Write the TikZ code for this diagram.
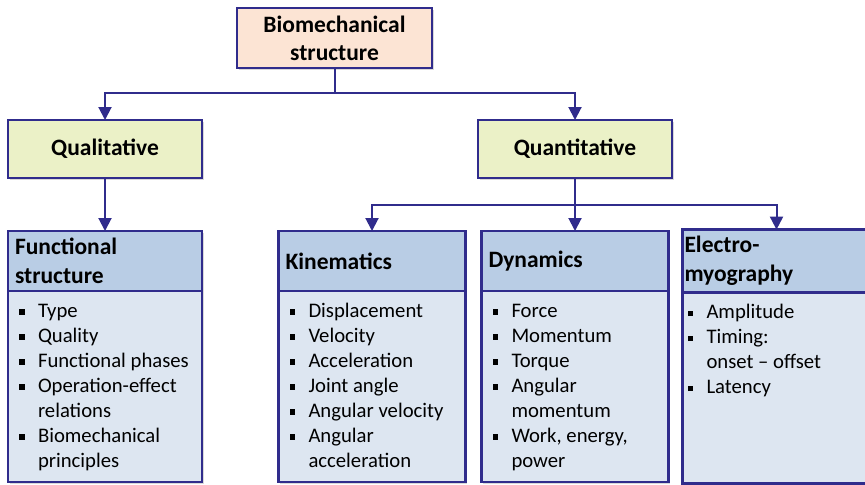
\documentclass[tikz,border=0pt]{standalone}
\usepackage{fontspec}
\setmainfont{Carlito}
\usetikzlibrary{positioning, arrows.meta, shadows}

\definecolor{frame}{RGB}{48,44,140}
\definecolor{peach}{RGB}{252,228,212}
\definecolor{lime}{RGB}{235,241,199}
\definecolor{headblue}{RGB}{185,205,229}
\definecolor{bodyblue}{RGB}{221,230,241}

\newcommand{\bitem}[1]{\spaceskip=0pt\xspaceskip=0pt\hangindent=13pt\hangafter=1\noindent\makebox[13pt][l]{\hspace{3.7pt}\rule[1.2pt]{2.6pt}{2.6pt}}#1\par}

\begin{document}
\begin{tikzpicture}[>={Triangle[length=6.5pt,width=6.5pt]},
  box/.style = {draw=frame, line width=1.2pt, outer sep=0pt,
    drop shadow={shadow xshift=.8pt, shadow yshift=-.8pt, opacity=.3}},
  rootbox/.style = {box, fill=peach, minimum width=97.5pt, minimum height=30pt,
    align=center, font=\fontsize{11.75}{14}\selectfont\bfseries},
  catbox/.style = {box, fill=lime, minimum width=97pt, minimum height=29pt,
    font=\fontsize{11.75}{14}\selectfont\bfseries},
  head/.style = {box, fill=headblue, text width=#1, inner xsep=3.5pt,
    minimum height=30pt, align=left, font=\fontsize{11.75}{14.5}\selectfont\bfseries},
  body/.style = {box, fill=bodyblue, text width=#1, inner xsep=2pt, inner ysep=4pt,
    text height=9pt, text depth=78.5pt, align=left, font=\fontsize{10.35}{12.5}\selectfont},
  link/.style = {->, draw=frame, line width=1pt}]
\useasboundingbox (0,0) rectangle (432.5pt,-242pt);
\clip (0,0) rectangle (432.5pt,-242pt);

\node[rootbox] (bio) at (167.25pt,-19pt) {Biomechanical\\structure};
\node[catbox] (qual) at (52.5pt,-74.5pt) {Qualitative};
\node[catbox] (quant) [right = 138pt of qual] {Quantitative};

\node[head=90pt] (func) [below = 26.5pt of qual] {Functional\\structure};
\node[head=86.5pt] (dyn) [below = 26.5pt of quant] {Dynamics};
\node[head=86.5pt] (kin) [left = 8pt of dyn] {Kinematics};
\node[head=95pt, inner xsep=1pt] (emg) [right = 7pt of dyn] {Electro-\\myography};

\node[body=93pt] (funclist) [below = 0pt of func] {\bitem{Type}\bitem{Quality}\bitem{Functional phases}\bitem{Operation-effect\newline relations}\bitem{Biomechanical\newline principles}};
\node[body=89.5pt] (kinlist) [below = 0pt of kin] {\bitem{Displacement}\bitem{Velocity}\bitem{Acceleration}\bitem{Joint angle}\bitem{Angular velocity}\bitem{Angular\newline acceleration}};
\node[body=89.5pt] (dynlist) [below = 0pt of dyn] {\bitem{Force}\bitem{Momentum}\bitem{Torque}\bitem{Angular\newline momentum}\bitem{Work, energy,\newline power}};
\node[body=99pt, inner xsep=-1pt] (emglist) [below = 0pt of emg] {\bitem{Amplitude}\bitem{Timing:\newline onset -- offset}\bitem{Latency}};

\draw[link] (bio.south) -- ++(0,-12.5pt) -| (qual.north);
\draw[link] (bio.south) -- ++(0,-12.5pt) -| (quant.north);
\draw[link] (qual) -- (func);
\draw[link] (quant.south) -- ++(0,-13.5pt) -| ([xshift=-1.5pt]emg.north);
\draw[link] (quant.south) -- ++(0,-13.5pt) -| (kin.north);
\draw[link] (quant) -- (dyn);
\end{tikzpicture}
\end{document}
